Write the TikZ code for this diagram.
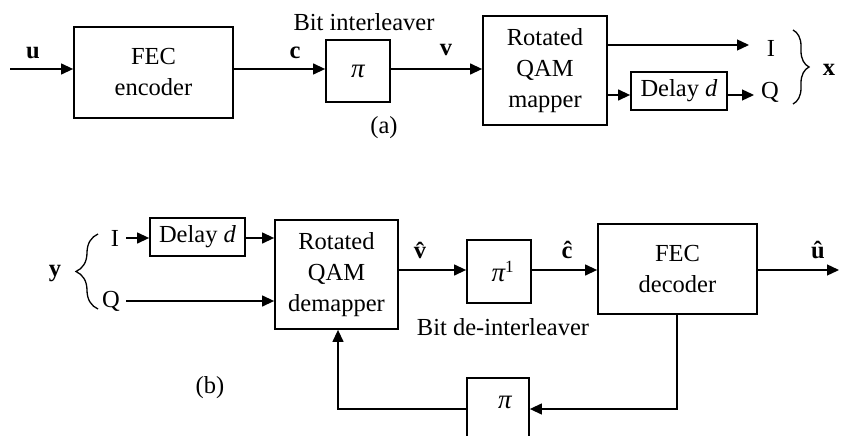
\documentclass[tikz,border=0pt]{standalone}
\usepackage{fontspec}
\setmainfont{Liberation Serif}
\usetikzlibrary{arrows.meta,decorations.pathreplacing}
\begin{document}
\begin{tikzpicture}[x=1pt,y=-1pt,
  box/.style={draw,line width=1.8pt,inner sep=0pt,align=center},
  conn/.style={line width=1.3pt},
  arr/.style={conn,-{Triangle[length=12pt,width=11pt]}},
  lbl/.style={inner sep=0pt},
  pisym/.style={font=\fontsize{27}{31}\selectfont\itshape},
  every node/.style={font=\fontsize{24.5}{31}\selectfont}]
\useasboundingbox (0,0) rectangle (841,436);
\clip (0,0) rectangle (841,436);
% ---------- (a) ----------
\node[box,minimum width=159pt,minimum height=91pt] (fec) at (153.5,72.5) {FEC\\encoder};
\node[box,pisym,minimum width=64pt,minimum height=62pt] (pi) at (358,71) {π};
\node[box,minimum width=124pt,minimum height=109pt] (map) at (545,70.5) {Rotated\\QAM\\mapper};
\node[box,minimum width=96pt,minimum height=38pt] (dly) at (679,91) {Delay \textit{d}};
\node[lbl] (lu) at (33,53) {\textbf{u}};
\node[lbl] (lc) at (295,53) {\textbf{c}};
\node[lbl] (lv) at (446,50) {\textbf{v}};
\node[lbl] (lbi) at (364,22) {Bit interleaver};
\node[lbl] (lI) at (771,48) {I};
\node[lbl] (lQ) at (770,92) {Q};
\node[lbl] (lx) at (829,70) {\textbf{x}};
\node[lbl] (la) at (384,128) {(a)};
\coordinate (uin) at (10,69);
\draw[arr] (uin) -- (uin -| fec.west);
\draw[arr] (fec.east |- uin) -- (pi.west |- uin);
\draw[arr] (pi.east |- uin) -- (map.west |- uin);
\coordinate (iout) at (749,45);
\draw[arr] (map.east |- iout) -- (iout);
\coordinate (qy) at (0,95);
\draw[arr] (map.east |- qy) -- (dly.west |- qy);
\coordinate (qout) at (754,95);
\draw[arr] (dly.east |- qout) -- (qout);
\coordinate (bxa) at (793,30);
\coordinate (bxb) at (793,104);
\draw[conn,decorate,decoration={brace,amplitude=16pt}] (bxa) -- (bxb);
% ---------- (b) ----------
\node[box,minimum width=95pt,minimum height=38pt] (dly2) at (197.5,237) {Delay \textit{d}};
\node[box,minimum width=123pt,minimum height=109pt] (dem) at (336.5,274.5) {Rotated\\QAM\\demapper};
\node[box,minimum width=64pt,minimum height=63pt] (pii) at (499,271.5) {\hspace*{8pt}{\fontsize{27}{31}\selectfont\itshape π}\textsuperscript{1}};
\node[box,minimum width=159pt,minimum height=90pt] (dec) at (677.5,269) {FEC\\decoder};
\node[box,minimum width=62pt,minimum height=75pt,anchor=north] (pib) at (498,377) {};
\node[lbl,pisym] (pibt) at (505,402) {π};
\node[lbl] (lIb) at (115,238) {I};
\node[lbl] (lQb) at (111,301) {Q};
\node[lbl] (ly) at (55,274) {\textbf{y}};
\node[lbl] (lvh) at (422,250) {\textbf{\^{v}}};
\node[lbl] (lch) at (567,250) {\textbf{ĉ}};
\node[lbl] (luh) at (818,250) {\textbf{û}};
\node[lbl] (lbd) at (503,327) {Bit de-interleaver};
\node[lbl] (lb) at (210,388) {(b)};
\coordinate (ib) at (126,238);
\draw[arr] (ib) -- (ib -| dly2.west);
\draw[arr] (dly2.east |- ib) -- (dem.west |- ib);
\coordinate (qb) at (126,301);
\draw[arr] (qb) -- (qb -| dem.west);
\coordinate (my) at (0,270);
\draw[arr] (dem.east |- my) -- (pii.west |- my);
\draw[arr] (pii.east |- my) -- (dec.west |- my);
\coordinate (uout) at (839,270);
\draw[arr] (dec.east |- uout) -- (uout);
\coordinate (fb) at (677,409);
\draw[arr] (dec.south -| fb) -- (fb) -- (pib.east |- fb);
\coordinate (fb2) at (338,409);
\draw[arr] (pib.west |- fb) -- (fb2) -- (fb2 |- dem.south);
\coordinate (bya) at (98,309);
\coordinate (byb) at (98,234);
\draw[conn,decorate,decoration={brace,amplitude=22pt}] (bya) -- (byb);
\end{tikzpicture}
\end{document}
